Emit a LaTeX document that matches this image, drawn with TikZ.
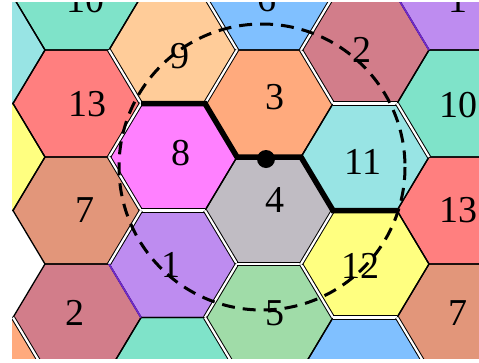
\documentclass[tikz,border=0pt]{standalone}
\usepackage{fontspec}
\setmainfont{Liberation Serif}
\definecolor{c1}{RGB}{190,140,240}
\definecolor{c2}{RGB}{210,125,138}
\definecolor{c3}{RGB}{255,170,125}
\definecolor{c4}{RGB}{192,188,195}
\definecolor{c5}{RGB}{160,220,168}
\definecolor{c6}{RGB}{128,192,255}
\definecolor{c7}{RGB}{226,150,122}
\definecolor{c8}{RGB}{255,128,255}
\definecolor{c9}{RGB}{255,204,153}
\definecolor{c10}{RGB}{127,227,201}
\definecolor{c11}{RGB}{152,228,228}
\definecolor{c12}{RGB}{255,255,128}
\definecolor{c13}{RGB}{255,127,127}
\definecolor{edgepurple}{RGB}{110,40,200}
\newcommand\hexat[2]{({#1+64},{#2}) -- ({#1+32},{#2-53.5}) -- ({#1-32},{#2-53.5}) -- ({#1-64},{#2}) -- ({#1-32},{#2+53.5}) -- ({#1+32},{#2+53.5}) -- cycle}
\tikzset{
  hexline/.style={draw=black, line width=1.3pt, line join=miter},
  gapline/.style={draw=black, line width=1pt, double=white, double distance=2.2pt},
  purpleline/.style={draw=edgepurple, line width=1.8pt},
  thickpath/.style={draw=black, line width=5.5pt, line join=miter},
  dashcircle/.style={draw=black, line width=3pt, dash pattern=on 13pt off 8pt},
  numlabel/.style={font=\fontsize{38}{38}\selectfont, inner sep=0pt, text=black},
}
\begin{document}
\begin{tikzpicture}[x=1pt,y=-1pt]
\useasboundingbox (0,0) rectangle (479,362);
\fill[white] (0,0) rectangle (479,362);
\begin{scope}
\clip (12,2) rectangle (479,358);
% fills
\foreach \hx/\hy/\hc in {
  -19/50/c11, -19/157/c12, -19/371/c3,
  77/-3.5/c10, 77/103.5/c13, 77/210.5/c7, 77/317.5/c2,
  173/50/c9, 173/157/c8, 173/264/c1, 173/371/c10,
  269/-3.5/c6, 269/103.5/c3, 269/210.5/c4, 269/317.5/c5,
  365/50/c2, 365/157/c11, 365/264/c12, 365/371/c6,
  461/-3.5/c1, 461/103.5/c10, 461/210.5/c13, 461/317.5/c7}
  { \fill[\hc] \hexat{\hx}{\hy}; }
% outlines
\foreach \hx/\hy in {
  -19/50, -19/157, -19/371,
  77/-3.5, 77/103.5, 77/210.5, 77/317.5,
  173/50, 173/157, 173/264, 173/371,
  269/-3.5, 269/103.5, 269/210.5, 269/317.5,
  365/50, 365/157, 365/264, 365/371,
  461/-3.5, 461/103.5, 461/210.5, 461/317.5}
  { \draw[hexline] \hexat{\hx}{\hy}; }
% edges with a white gap
\foreach \ax/\ay/\bx/\by in {
  205/-3.5/237/50, 237/50/205/103.5, 109/50/141/103.5,
  141/103.5/109/157, 109/157/141/210.5, 141/210.5/205/210.5,
  301/50/333/103.5,
  301/50/333/-3.5, 333/103.5/397/103.5,
  397/103.5/429/157,
  141/210.5/109/264, 205/210.5/237/264, 237/264/205/317.5,
  237/264/301/264, 205/317.5/237/371, 301/264/333/317.5,
  333/210.5/301/264, 333/317.5/397/317.5,
  397/317.5/429/371,
  13/317.5/45/371}
  { \draw[gapline] (\ax,\ay) -- (\bx,\by); }
% darker purple edges
\draw[purpleline] (109,264) -- (141,317.5);
\draw[purpleline] (397,-3.5) -- (429,50);
% labels
\node[numlabel] (t10a) at (85,0) {10};
\node[numlabel] (t6) at (267,-1) {6};
\node[numlabel] (t1a) at (458,0) {1};
\node[numlabel] (t9) at (180,56) {9};
\node[numlabel] (t2a) at (362,50) {2};
\node[numlabel] (t13a) at (87,104) {13};
\node[numlabel] (t3) at (275,97) {3};
\node[numlabel] (t10b) at (458,105) {10};
\node[numlabel] (t8) at (181,153) {8};
\node[numlabel] (t11) at (363,162) {11};
\node[numlabel] (t7a) at (85,210) {7};
\node[numlabel] (t4) at (275,200) {4};
\node[numlabel] (t13b) at (458,210) {13};
\node[numlabel] (t1b) at (171,265) {1};
\node[numlabel] (t12) at (360,266) {12};
\node[numlabel] (t2b) at (75,313) {2};
\node[numlabel] (t5) at (275,313) {5};
\node[numlabel] (t7b) at (458,313) {7};
% thick boundary path
\coordinate (p1) at (141,103.5);
\coordinate (p2) at (205,103.5);
\coordinate (p3) at (237,157);
\coordinate (p4) at (301,157);
\coordinate (p5) at (333,210.5);
\coordinate (p6) at (397,210.5);
\draw[thickpath] (p1) -- (p2) -- (p3) -- (p4) -- (p5) -- (p6);
% dashed circle and dot
\coordinate (cc) at (262,167);
\draw[dashcircle] (cc) circle[radius=143];
\node[circle, fill=black, inner sep=0pt, minimum size=18pt] (dot) at (266,159) {};
\end{scope}
\end{tikzpicture}
\end{document}
